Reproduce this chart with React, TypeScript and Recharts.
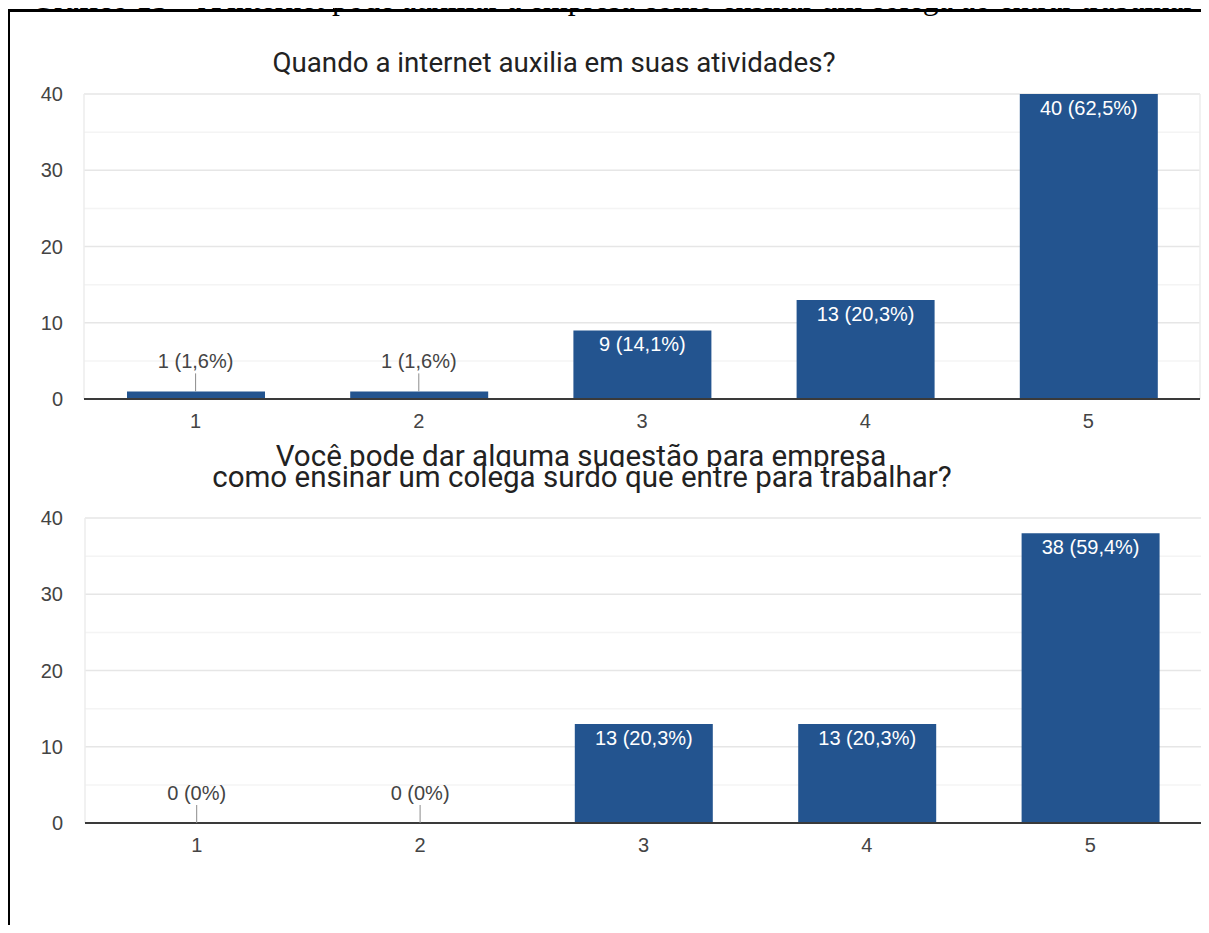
import { ComposedChart, Bar, Line, XAxis, YAxis, CartesianGrid, LabelList } from 'recharts';

const categories = ['1', '2', '3', '4', '5'];
const internetCounts = [1, 1, 9, 13, 40];
const internetPercents = ['1,6%', '1,6%', '14,1%', '20,3%', '62,5%'];
const suggestionCounts = [0, 0, 13, 13, 38];
const suggestionPercents = ['0%', '0%', '20,3%', '20,3%', '59,4%'];
const yTicks = [0, 5, 10, 15, 20, 25, 30, 35, 40];

const captionText =
  'Gráfico 15 – A internet pode auxiliar a empresa como ensinar um colega ao entrar trabalhar';
const internetTitle = 'Quando a internet auxilia em suas atividades?';
const suggestionTitle = [
  'Você pode dar alguma sugestão para empresa',
  'como ensinar um colega surdo que entre para trabalhar?',
];

const BAR_COLOR = '#23548f';
const SANS = '"Liberation Sans", Arial, sans-serif';
// bars shorter than this get their label above, with a leader line
const INSIDE_LABEL_MIN = 4;

const buildRows = (counts: number[], percents: string[]) =>
  categories.map((cat, i) => {
    const label = `${counts[i]} (${percents[i]})`;
    const inside = counts[i] >= INSIDE_LABEL_MIN;
    return {
      cat,
      count: counts[i],
      insideLabel: inside ? label : '',
      aboveLabel: inside ? '' : label,
    };
  });

const renderInsideLabel = (props: any) => {
  if (!props.value) return null;
  const cx = Number(props.x) + Number(props.width) / 2;
  return (
    <text x={cx} y={Number(props.y) + 21} fill="#fff" textAnchor="middle" fontSize={20} fontFamily={SANS}>
      {props.value}
    </text>
  );
};

const renderAboveLabel = (props: any) => {
  if (!props.value) return null;
  const x = Number(props.x);
  const y = Number(props.y);
  return (
    <g>
      <line x1={x} x2={x} y1={y - 18} y2={y} stroke="#8c8c8c" strokeWidth={1} />
      <text x={x} y={y - 23} fill="#444" textAnchor="middle" fontSize={20} fontFamily={SANS}>
        {props.value}
      </text>
    </g>
  );
};

const renderYTick = (props: any) => {
  const { x, y, payload } = props;
  if (payload.value % 10 !== 0) return <g />;
  return (
    <text x={x} y={y} dy="0.355em" textAnchor="end" fill="#444" fontSize={20} fontFamily={SANS}>
      {payload.value}
    </text>
  );
};

const gridLine = (props: any) => (
  <line
    x1={props.x1}
    y1={props.y1}
    x2={props.x2}
    y2={props.y2}
    stroke={props.index % 2 === 1 ? '#f4f4f4' : '#e6e6e6'}
    strokeWidth={1.5}
  />
);

const borderLine = (props: any) => (
  <line x1={props.x1} y1={props.y1} x2={props.x2} y2={props.y2} stroke="#ececec" strokeWidth={1.5} />
);

interface SurveyBarsProps {
  rows: ReturnType<typeof buildRows>;
  top: number;
  yAxisWidth: number;
  rightMargin: number;
  tickGap: number;
}

const SurveyBars = ({ rows, top, yAxisWidth, rightMargin, tickGap }: SurveyBarsProps) => (
  <div style={{ position: 'absolute', left: 0, top }}>
    <ComposedChart
      width={1209}
      height={450}
      data={rows}
      margin={{ top: 94, right: rightMargin, bottom: 21, left: 0 }}
      barSize={138}
    >
      <CartesianGrid
        horizontal={gridLine}
        vertical={borderLine}
        verticalCoordinatesGenerator={({ offset }: any) => [offset.left, offset.left + offset.width]}
      />
      <XAxis
        dataKey="cat"
        axisLine={{ stroke: '#3a3a3a', strokeWidth: 2 }}
        tickLine={false}
        tickSize={0}
        tickMargin={15}
        height={30}
        tick={{ fill: '#444', fontSize: 20, fontFamily: SANS }}
      />
      <YAxis
        domain={[0, 40]}
        ticks={yTicks}
        interval={0}
        width={yAxisWidth}
        axisLine={false}
        tickLine={false}
        tickSize={0}
        tickMargin={tickGap}
        tick={renderYTick}
      />
      <Bar dataKey="count" fill={BAR_COLOR} isAnimationActive={false}>
        <LabelList dataKey="insideLabel" content={renderInsideLabel} />
      </Bar>
      <Line
        dataKey="count"
        stroke="none"
        dot={false}
        activeDot={false}
        legendType="none"
        isAnimationActive={false}
      >
        <LabelList dataKey="aboveLabel" content={renderAboveLabel} />
      </Line>
    </ComposedChart>
  </div>
);

export default function App() {
  const internetRows = buildRows(internetCounts, internetPercents);
  const suggestionRows = buildRows(suggestionCounts, suggestionPercents);

  return (
    <div
      style={{
        position: 'relative',
        width: 1209,
        height: 933,
        margin: -8,
        overflow: 'hidden',
        background: '#fff',
      }}
    >
      <svg width={1209} height={933} style={{ position: 'absolute', left: 0, top: 0 }}>
        <defs>
          <clipPath id="firstLineClip">
            <rect x={0} y={420} width={1209} height={47} />
          </clipPath>
        </defs>
        <text
          x={31}
          y={9}
          fontFamily='"Liberation Serif", "Times New Roman", serif'
          fontSize={31.8}
          fill="#000"
        >
          {captionText}
        </text>
        <rect x={333} y={0} width={1.5} height={10} fill="#000" />
        <rect x={7} y={9} width={1202} height={3} fill="#000" />
        <rect x={7} y={9} width={3} height={924} fill="#000" />
        <text x={554} y={72} textAnchor="middle" fontFamily="Roboto" fontSize={27.7} fill="#222">
          {internetTitle}
        </text>
        <text
          x={581}
          y={466}
          textAnchor="middle"
          fontFamily="Roboto"
          fontSize={29.5}
          fill="#222"
          clipPath="url(#firstLineClip)"
        >
          {suggestionTitle[0]}
        </text>
        <text x={582} y={487} textAnchor="middle" fontFamily="Roboto" fontSize={29.5} fill="#222">
          {suggestionTitle[1]}
        </text>
      </svg>
      <SurveyBars rows={internetRows} top={0} yAxisWidth={84} rightMargin={9} tickGap={21} />
      <SurveyBars rows={suggestionRows} top={424} yAxisWidth={85} rightMargin={7} tickGap={22} />
    </div>
  );
}
